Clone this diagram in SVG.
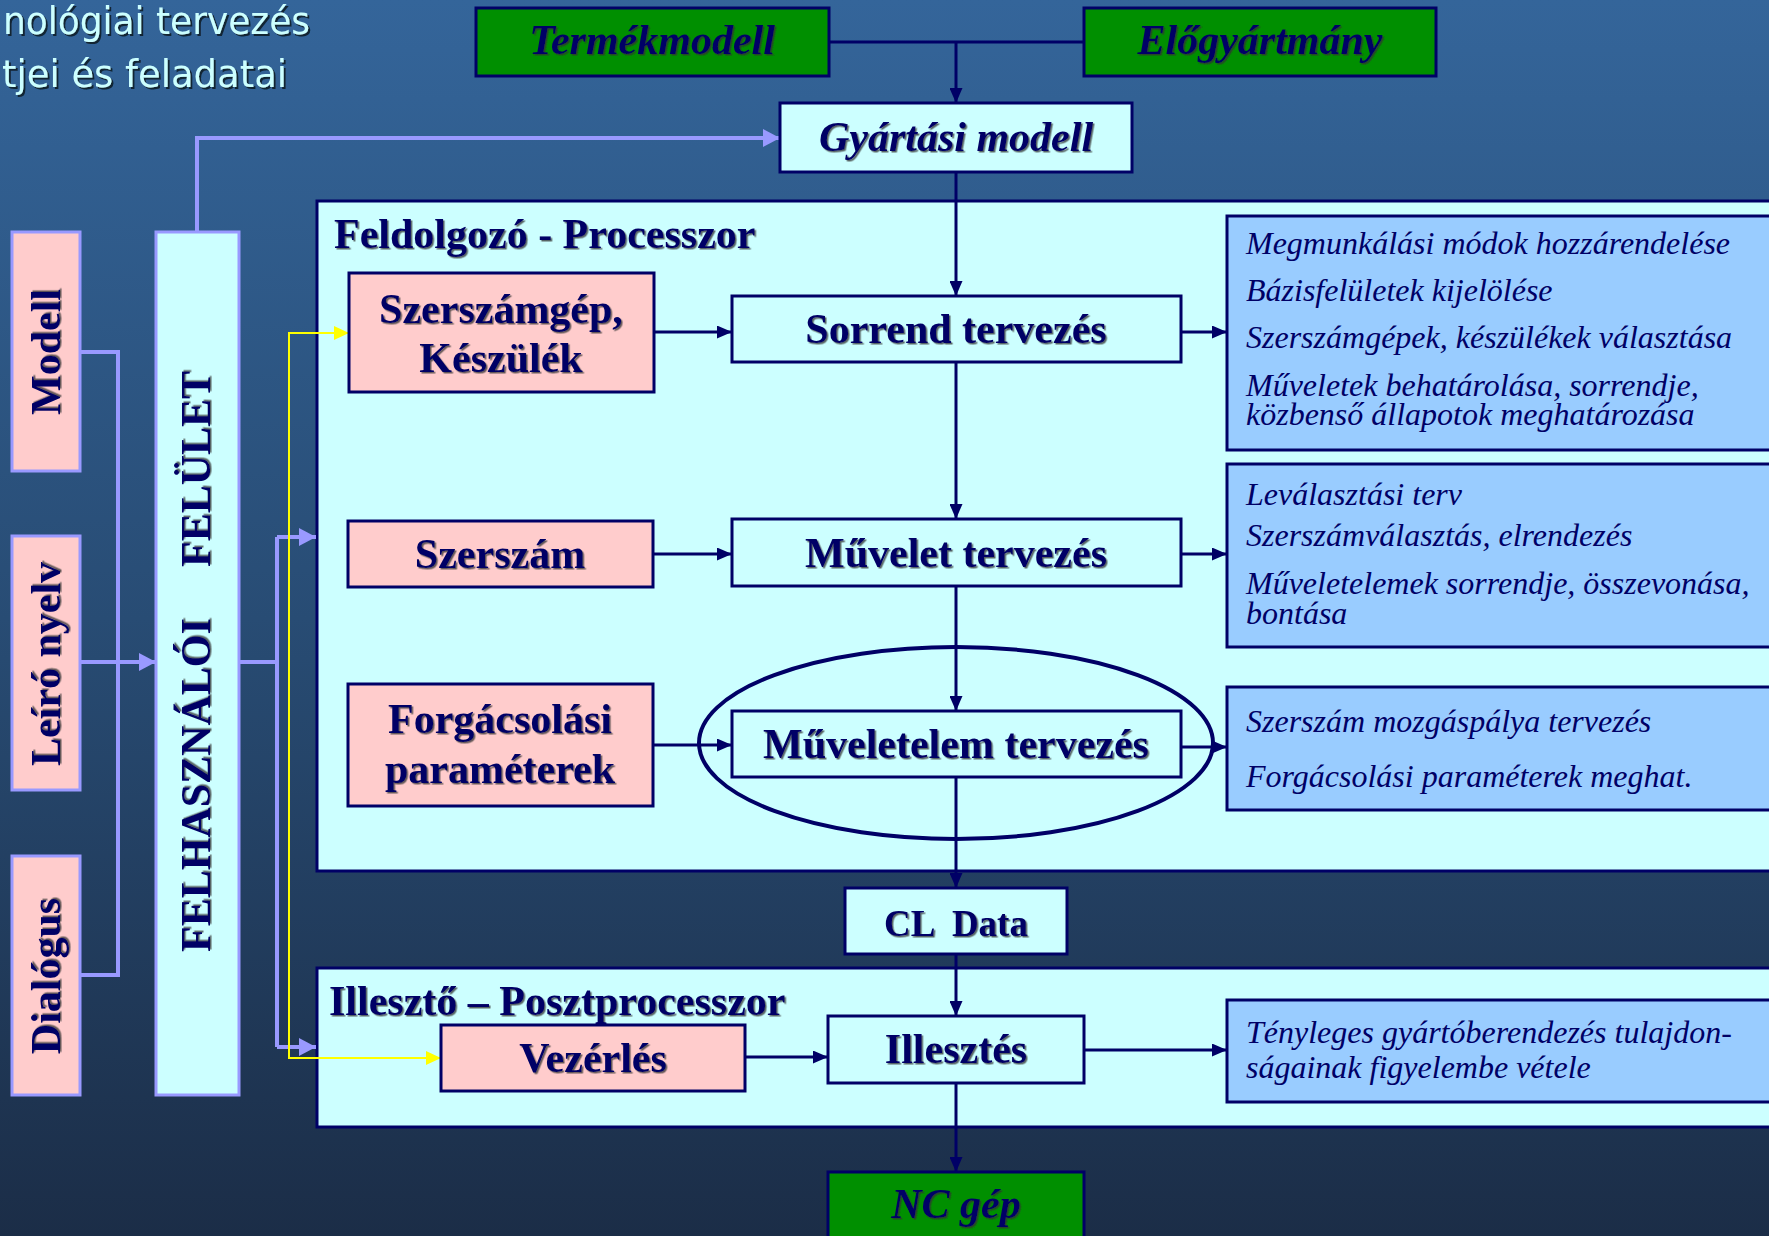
<svg xmlns="http://www.w3.org/2000/svg" width="1769" height="1236" viewBox="0 0 1769 1236">
  <defs>
    <linearGradient id="bg" x1="0" y1="0" x2="0" y2="1">
      <stop offset="0" stop-color="#34659a"/>
      <stop offset="0.5" stop-color="#284c74"/>
      <stop offset="1" stop-color="#1b2d47"/>
    </linearGradient>
    <filter id="shade" x="-5%" y="-20%" width="110%" height="140%">
      <feDropShadow dx="1.5" dy="1.5" stdDeviation="0.4" flood-color="#333333" flood-opacity="0.75"/>
    </filter>
    <filter id="titleShade" x="-5%" y="-20%" width="110%" height="140%">
      <feDropShadow dx="2" dy="2" stdDeviation="0.5" flood-color="#0e1a2c" flood-opacity="0.9"/>
    </filter>
    <marker id="navyHead" markerUnits="userSpaceOnUse" markerWidth="15" markerHeight="13" refX="15" refY="6.5" orient="auto">
      <path d="M0,0 L15,6.5 L0,13 Z" fill="#000066"/>
    </marker>
    <marker id="purpleHead" markerUnits="userSpaceOnUse" markerWidth="17" markerHeight="18" refX="17" refY="9" orient="auto">
      <path d="M0,0 L17,9 L0,18 Z" fill="#9999ff"/>
    </marker>
    <marker id="yellowHead" markerUnits="userSpaceOnUse" markerWidth="15" markerHeight="14" refX="15" refY="7" orient="auto">
      <path d="M0,0 L15,7 L0,14 Z" fill="#ffff00"/>
    </marker>
  </defs>
  <style>
    .box { stroke: #000066; stroke-width: 3; }
    .green { fill: #008f00; }
    .cyan { fill: #ccffff; }
    .pink { fill: #ffcccc; }
    .blue { fill: #99ccff; }
    .side { stroke: #9999ff; stroke-width: 3; }
    .lbl { font-family: "Liberation Serif", "Times New Roman", serif; font-weight: bold; font-size: 42px; fill: #000066; filter: url(#shade); }
    .ital { font-style: italic; }
    .mid { text-anchor: middle; }
    .note { font-family: "Liberation Serif", "Times New Roman", serif; font-style: italic; font-size: 32px; fill: #000066; }
    .title { font-family: "DejaVu Sans", "Liberation Sans", sans-serif; font-size: 37px; fill: #ccffff; filter: url(#titleShade); }
    .navy { stroke: #000066; stroke-width: 3; fill: none; }
    .purple { stroke: #9999ff; stroke-width: 4; fill: none; }
    .yellow { stroke: #ffff00; stroke-width: 2; fill: none; }
  </style>

  <rect x="0" y="0" width="1769" height="1236" fill="url(#bg)"/>

  <!-- slide heading, cut at the left edge -->
  <g id="heading">
    <text class="title" x="3" y="34" textLength="307" lengthAdjust="spacingAndGlyphs">nológiai tervezés</text>
    <text class="title" x="2" y="87" textLength="285" lengthAdjust="spacingAndGlyphs">tjei és feladatai</text>
  </g>

  <!-- container panels -->
  <g id="processor">
    <rect class="box cyan" x="317" y="201" width="1470" height="670"/>
    <text class="lbl" x="334" y="248">Feldolgozó - Processzor</text>
  </g>
  <g id="postprocessor">
    <rect class="box cyan" x="317" y="968" width="1470" height="159"/>
    <text class="lbl" x="329" y="1015">Illesztő – Posztprocesszor</text>
  </g>
  <g id="operation-ring">
    <ellipse cx="956" cy="743" rx="257" ry="96" fill="none" stroke="#000066" stroke-width="4"/>
  </g>

  <!-- connectors -->
  <g id="connectors">
    <path class="navy" d="M829,42 H1084"/>
    <path class="navy" d="M956,42 V103" marker-end="url(#navyHead)"/>
    <path class="navy" d="M956,172 V296" marker-end="url(#navyHead)"/>
    <path class="navy" d="M956,362 V519" marker-end="url(#navyHead)"/>
    <path class="navy" d="M956,586 V711" marker-end="url(#navyHead)"/>
    <path class="navy" d="M956,777 V888" marker-end="url(#navyHead)"/>
    <path class="navy" d="M956,954 V1016" marker-end="url(#navyHead)"/>
    <path class="navy" d="M956,1083 V1172" marker-end="url(#navyHead)"/>
    <path class="navy" d="M654,332 H732" marker-end="url(#navyHead)"/>
    <path class="navy" d="M653,554 H732" marker-end="url(#navyHead)"/>
    <path class="navy" d="M653,745 H732" marker-end="url(#navyHead)"/>
    <path class="navy" d="M745,1057 H828" marker-end="url(#navyHead)"/>
    <path class="navy" d="M1181,332 H1227" marker-end="url(#navyHead)"/>
    <path class="navy" d="M1181,554 H1227" marker-end="url(#navyHead)"/>
    <path class="navy" d="M1181,747 H1227" marker-end="url(#navyHead)"/>
    <path class="navy" d="M1084,1050 H1227" marker-end="url(#navyHead)"/>

    <path class="purple" d="M80,352 H118 V975 H80"/>
    <path class="purple" d="M80,662 H156" marker-end="url(#purpleHead)"/>
    <path class="purple" d="M239,662 H277"/>
    <path class="purple" d="M277,537 V1047"/>
    <path class="purple" d="M277,537 H316" marker-end="url(#purpleHead)"/>
    <path class="purple" d="M277,1047 H316" marker-end="url(#purpleHead)"/>
    <path class="purple" d="M197,232 V138 H780" marker-end="url(#purpleHead)"/>

    <path class="yellow" d="M349,333 H289 V1058 H441" marker-end="url(#yellowHead)"/>
    <path class="yellow" d="M289,333 H349" marker-end="url(#yellowHead)"/>
  </g>

  <!-- inputs at the top -->
  <g id="termekmodell">
    <rect class="box green" x="476" y="8" width="353" height="68"/>
    <text class="lbl ital mid" x="652" y="54">Termékmodell</text>
  </g>
  <g id="elogyartmany">
    <rect class="box green" x="1084" y="8" width="352" height="68"/>
    <text class="lbl ital mid" x="1260" y="54">Előgyártmány</text>
  </g>
  <g id="gyartasi-modell">
    <rect class="box cyan" x="780" y="103" width="352" height="69"/>
    <text class="lbl ital mid" x="956" y="151">Gyártási modell</text>
  </g>

  <!-- user interface column -->
  <g id="modell">
    <rect class="side pink" x="12" y="232" width="68" height="239"/>
    <text class="lbl mid" transform="translate(60,352) rotate(-90)">Modell</text>
  </g>
  <g id="leiro-nyelv">
    <rect class="side pink" x="12" y="536" width="68" height="254"/>
    <text class="lbl mid" transform="translate(60,664) rotate(-90)">Leíró nyelv</text>
  </g>
  <g id="dialogus">
    <rect class="side pink" x="12" y="856" width="68" height="239"/>
    <text class="lbl mid" transform="translate(60,976) rotate(-90)">Dialógus</text>
  </g>
  <g id="felhasznaloi-felulet">
    <rect class="side cyan" x="156" y="232" width="83" height="863"/>
    <text class="lbl" transform="translate(210,952) rotate(-90)">FELHASZNÁLÓI<tspan x="385">FELÜLET</tspan></text>
  </g>

  <!-- processor stages -->
  <g id="szerszamgep">
    <rect class="box pink" x="349" y="273" width="305" height="119"/>
    <text class="lbl mid" x="501" y="323">Szerszámgép,</text>
    <text class="lbl mid" x="501" y="372">Készülék</text>
  </g>
  <g id="sorrend-tervezes">
    <rect class="box cyan" x="732" y="296" width="449" height="66"/>
    <text class="lbl mid" x="956" y="343">Sorrend tervezés</text>
  </g>
  <g id="szerszam">
    <rect class="box pink" x="348" y="521" width="305" height="66"/>
    <text class="lbl mid" x="500" y="568">Szerszám</text>
  </g>
  <g id="muvelet-tervezes">
    <rect class="box cyan" x="732" y="519" width="449" height="67"/>
    <text class="lbl mid" x="956" y="567">Művelet tervezés</text>
  </g>
  <g id="forgacsolasi-parameterek">
    <rect class="box pink" x="348" y="684" width="305" height="122"/>
    <text class="lbl mid" x="500" y="733">Forgácsolási</text>
    <text class="lbl mid" x="500" y="783">paraméterek</text>
  </g>
  <g id="muveletelem-tervezes">
    <rect class="box cyan" x="732" y="711" width="449" height="66"/>
    <text class="lbl mid" x="956" y="758">Műveletelem tervezés</text>
  </g>

  <!-- task lists -->
  <g id="sorrend-feladatok">
    <rect class="box blue" x="1227" y="216" width="560" height="234"/>
    <text class="note" x="1246" y="254">Megmunkálási módok hozzárendelése</text>
    <text class="note" x="1246" y="301">Bázisfelületek kijelölése</text>
    <text class="note" x="1246" y="348">Szerszámgépek, készülékek választása</text>
    <text class="note" x="1246" y="396">Műveletek behatárolása, sorrendje,</text>
    <text class="note" x="1246" y="425">közbenső állapotok meghatározása</text>
  </g>
  <g id="muvelet-feladatok">
    <rect class="box blue" x="1227" y="464" width="560" height="183"/>
    <text class="note" x="1246" y="505">Leválasztási terv</text>
    <text class="note" x="1246" y="546">Szerszámválasztás, elrendezés</text>
    <text class="note" x="1246" y="594">Műveletelemek sorrendje, összevonása,</text>
    <text class="note" x="1246" y="624">bontása</text>
  </g>
  <g id="muveletelem-feladatok">
    <rect class="box blue" x="1227" y="687" width="560" height="123"/>
    <text class="note" x="1246" y="732">Szerszám mozgáspálya tervezés</text>
    <text class="note" x="1246" y="787">Forgácsolási paraméterek meghat.</text>
  </g>

  <!-- output chain -->
  <g id="cl-data">
    <rect class="box cyan" x="845" y="888" width="222" height="66"/>
    <text class="lbl mid" x="956" y="936" style="font-size:37px" xml:space="preserve">CL  Data</text>
  </g>
  <g id="vezerles">
    <rect class="box pink" x="441" y="1025" width="304" height="66"/>
    <text class="lbl mid" x="593" y="1072">Vezérlés</text>
  </g>
  <g id="illesztes">
    <rect class="box cyan" x="828" y="1016" width="256" height="67"/>
    <text class="lbl mid" x="956" y="1063">Illesztés</text>
  </g>
  <g id="illesztes-feladatok">
    <rect class="box blue" x="1227" y="1000" width="560" height="102"/>
    <text class="note" x="1246" y="1043">Tényleges gyártóberendezés tulajdon-</text>
    <text class="note" x="1246" y="1078">ságainak figyelembe vétele</text>
  </g>
  <g id="nc-gep">
    <rect class="box green" x="828" y="1172" width="256" height="80"/>
    <text class="lbl ital mid" x="956" y="1218">NC gép</text>
  </g>
</svg>
